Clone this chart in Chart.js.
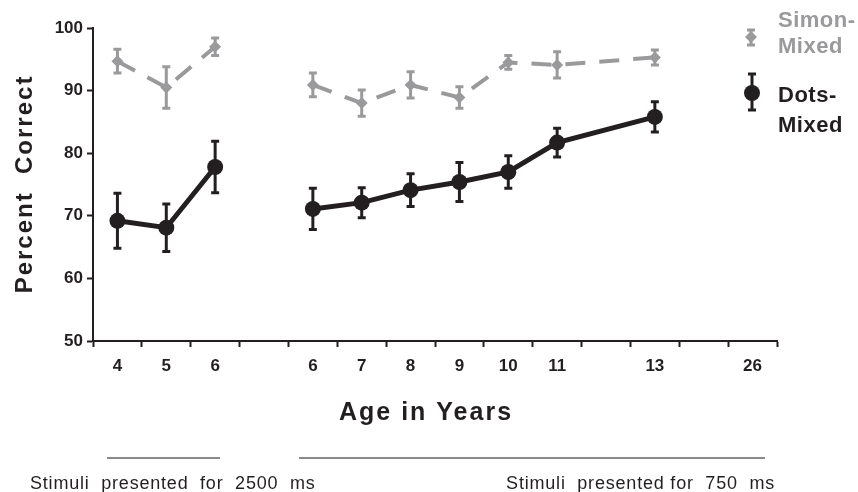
<!DOCTYPE html>
<html>
<head>
<meta charset="utf-8">
<script src="https://cdn.jsdelivr.net/npm/chart.js@4.4.1/dist/chart.umd.min.js"></script>
<style>
  html, body { margin: 0; padding: 0; background: #fff; }
  #wrap { width: 858px; height: 492px; }
</style>
</head>
<body>
<div id="wrap"><canvas id="chart" width="858" height="492"></canvas></div>
<script>
// x slots, empty strings are spacer slots
const ageLabels = ['4', '5', '6', '', '6', '7', '8', '9', '10', '11', '', '13', '', '26'];

// Dots-Mixed means and error bars
const dotsMean = [69.2, 68.1, 77.8, null, 71.1, 72.1, 74.1, 75.4, 77.0, 81.7, null, 85.8, null, null];
const dotsErr  = [4.4, 3.8, 4.1, null, 3.3, 2.4, 2.6, 3.1, 2.6, 2.3, null, 2.4, null, null];

// Simon-Mixed means and error bars
const simonMean = [94.7, 90.5, 97.0, null, 90.9, 88.0, 90.9, 88.9, 94.5, 94.1, null, 95.3, null, null];
const simonErr  = [1.9, 3.3, 1.4, null, 1.9, 2.1, 2.1, 1.7, 1.1, 2.1, null, 1.2, null, null];

const FONT = '"Liberation Sans", Arial, Helvetica, sans-serif';
const DARK = '#231f20';
const GREY = '#9a9a9c';

// first slot of the 750 ms group: no line is drawn into it from the left
const secondGroupStart = 4;
const hideBreak = (ctx) => ctx.p1DataIndex === secondGroupStart ? 'rgba(0,0,0,0)' : undefined;

// error bars under the markers
const errorBars = {
  id: 'errorBars',
  beforeDatasetsDraw(chart) {
    const ctx = chart.ctx;
    const y = chart.scales.y;
    chart.data.datasets.forEach((ds, di) => {
      const meta = chart.getDatasetMeta(di);
      ctx.save();
      ctx.strokeStyle = ds.backgroundColor;
      ctx.lineWidth = 3;
      ds.errors.forEach((e, i) => {
        const v = ds.data[i];
        if (v === null || e === null) return;
        const px = meta.data[i].x;
        const top = y.getPixelForValue(v + e);
        const bot = y.getPixelForValue(v - e);
        ctx.beginPath();
        ctx.moveTo(px, top); ctx.lineTo(px, bot);
        ctx.moveTo(px - 4, top); ctx.lineTo(px + 4, top);
        ctx.moveTo(px - 4, bot); ctx.lineTo(px + 4, bot);
        ctx.stroke();
      });
      ctx.restore();
    });
  }
};

// axis titles, legend, and the stimulus duration notes
const decorations = {
  id: 'decorations',
  afterDraw(chart) {
    const ctx = chart.ctx;
    ctx.save();
    ctx.fillStyle = DARK;

    // y title
    ctx.save();
    ctx.translate(32, 184);
    ctx.rotate(-Math.PI / 2);
    ctx.font = 'bold 24px ' + FONT;
    ctx.letterSpacing = '2px';
    ctx.textAlign = 'center';
    ctx.textBaseline = 'alphabetic';
    ctx.fillText('Percent  Correct', 0, 0);
    ctx.restore();

    // x title
    ctx.font = 'bold 25px ' + FONT;
    ctx.letterSpacing = '2px';
    ctx.textAlign = 'center';
    ctx.textBaseline = 'alphabetic';
    ctx.fillText('Age in Years', 426, 420);

    // legend
    ctx.textAlign = 'left';
    ctx.font = 'bold 22px ' + FONT;
    ctx.letterSpacing = '0.5px';
    ctx.fillStyle = GREY;
    ctx.fillText('Simon-', 778, 27);
    ctx.fillText('Mixed', 778, 53);
    ctx.fillStyle = DARK;
    ctx.fillText('Dots-', 778, 102);
    ctx.fillText('Mixed', 778, 132);

    // legend symbols
    ctx.lineWidth = 3;
    ctx.strokeStyle = GREY;
    ctx.beginPath();
    ctx.moveTo(751, 30); ctx.lineTo(751, 45);
    ctx.moveTo(747, 30); ctx.lineTo(755, 30);
    ctx.moveTo(747, 45); ctx.lineTo(755, 45);
    ctx.stroke();
    ctx.fillStyle = GREY;
    ctx.beginPath();
    ctx.moveTo(751, 31); ctx.lineTo(757, 37); ctx.lineTo(751, 43); ctx.lineTo(745, 37);
    ctx.closePath(); ctx.fill();

    ctx.strokeStyle = DARK;
    ctx.fillStyle = DARK;
    ctx.beginPath();
    ctx.moveTo(752, 74); ctx.lineTo(752, 110);
    ctx.moveTo(748, 74); ctx.lineTo(756, 74);
    ctx.moveTo(748, 110); ctx.lineTo(756, 110);
    ctx.stroke();
    ctx.beginPath();
    ctx.arc(752, 93, 8, 0, Math.PI * 2);
    ctx.fill();

    // stimulus duration notes
    ctx.strokeStyle = '#8a8a8a';
    ctx.lineWidth = 2;
    ctx.beginPath();
    ctx.moveTo(107, 458); ctx.lineTo(220, 458);
    ctx.moveTo(299, 458); ctx.lineTo(765, 458);
    ctx.stroke();

    ctx.fillStyle = DARK;
    ctx.font = '18px ' + FONT;
    ctx.letterSpacing = '0.8px';
    ctx.textAlign = 'left';
    ctx.fillText('Stimuli  presented  for  2500  ms', 30, 489);
    ctx.textAlign = 'right';
    ctx.fillText('Stimuli  presented for  750  ms', 775, 489);
    ctx.restore();
  }
};

new Chart(document.getElementById('chart'), {
  type: 'line',
  data: {
    labels: ageLabels,
    datasets: [
      {
        label: 'Simon-Mixed',
        data: simonMean,
        errors: simonErr,
        borderColor: GREY,
        backgroundColor: GREY,
        borderWidth: 4,
        borderDash: [20, 14],
        pointStyle: 'rectRot',
        pointRadius: 6,
        pointBorderWidth: 0,
        spanGaps: true,
        segment: { borderColor: hideBreak }
      },
      {
        label: 'Dots-Mixed',
        data: dotsMean,
        errors: dotsErr,
        borderColor: DARK,
        backgroundColor: DARK,
        borderWidth: 5,
        pointStyle: 'circle',
        pointRadius: 8,
        pointBorderWidth: 0,
        spanGaps: true,
        segment: { borderColor: hideBreak }
      }
    ]
  },
  options: {
    responsive: false,
    animation: false,
    devicePixelRatio: 1,
    layout: { padding: { top: 28, right: 81, bottom: 0, left: 0 } },
    plugins: {
      legend: { display: false },
      tooltip: { enabled: false }
    },
    scales: {
      x: {
        type: 'category',
        offset: true,
        afterFit(scale) { scale.height = 151; },
        grid: { offset: true, drawOnChartArea: false, tickLength: 6, tickWidth: 2, color: DARK },
        border: { display: true, width: 2, color: DARK },
        ticks: {
          color: DARK,
          padding: 9,
          autoSkip: false,
          maxRotation: 0,
          font: { family: FONT, size: 17, weight: 'bold' }
        }
      },
      y: {
        min: 50,
        max: 100,
        afterFit(scale) { scale.width = 93; },
        grid: { drawOnChartArea: false, tickLength: 6, tickWidth: 2, color: DARK },
        border: { display: true, width: 2, color: DARK },
        ticks: {
          stepSize: 10,
          color: DARK,
          padding: 4,
          font: { family: FONT, size: 17, weight: 'bold' }
        }
      }
    }
  },
  plugins: [errorBars, decorations]
});
</script>
</body>
</html>
